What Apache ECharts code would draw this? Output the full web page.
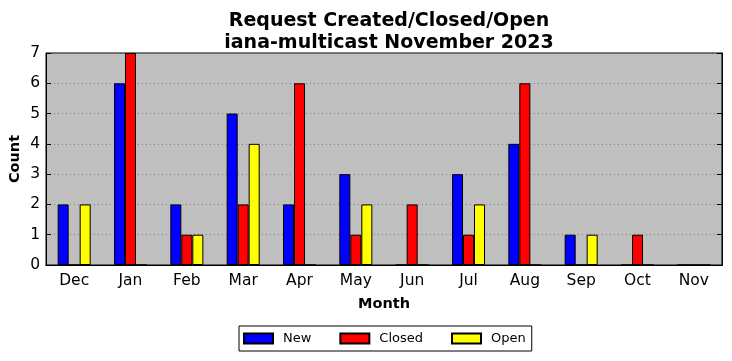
<!DOCTYPE html>
<html><head><meta charset="utf-8">
<script src="https://cdn.jsdelivr.net/npm/echarts@6/dist/echarts.min.js"></script>
<style>html,body{margin:0;padding:0;background:#fff}#c{width:732px;height:361px}</style>
</head><body><div id="c"></div>
<script>
const months = ['Dec','Jan','Feb','Mar','Apr','May','Jun','Jul','Aug','Sep','Oct','Nov'];
const newVals = [2,6,2,5,2,3,0,3,4,1,0,0];
const closedVals = [0,7,1,2,6,1,2,1,6,0,1,0];
const openVals = [2,0,1,4,0,2,0,2,0,1,0,0];
const yTicks = [0,1,2,3,4,5,6,7];

const font = 'DejaVu Sans';
const chart = echarts.init(document.getElementById('c'), null, {renderer:'canvas'});
const barStyle = c => ({color:c, borderColor:'#000', borderWidth:1});
chart.setOption({
  animation:false,
  textStyle:{fontFamily:font},
  title:{text:'Request Created/Closed/Open\niana-multicast November 2023', left:384, top:5, textAlign:'center',
    textStyle:{fontFamily:font, fontSize:19, fontWeight:'bold', color:'#000', lineHeight:22}},
  grid:{left:46, right:10, top:53, bottom:96, outerBoundsMode:'none', containLabel:false, show:true, backgroundColor:'#bfbfbf', borderColor:'#000', borderWidth:1},
  legend:{bottom:10, left:239, itemWidth:29, itemHeight:10, itemGap:28, borderColor:'#000', borderWidth:1, borderRadius:0,
    padding:[6,6,6,4], textStyle:{fontFamily:font, fontSize:13, color:'#000', padding:[0,0,0,5]}, icon:'rect',
    data:['New','Closed','Open']},
  xAxis:[{type:'category', data:months, position:'bottom',
    axisLine:{lineStyle:{color:'#000'}}, axisTick:{inside:true, alignWithLabel:true, length:5, lineStyle:{color:'#000'}},
    axisLabel:{fontFamily:font, fontSize:15.5, color:'#000', margin:8},
    name:'Month', nameLocation:'middle', nameGap:32, nameMoveOverlap:false, nameTextStyle:{fontFamily:font, fontSize:14.5, fontWeight:'bold', color:'#000'}},
    {type:'category', data:months, position:'top',
    axisLine:{lineStyle:{color:'#000'}}, axisTick:{inside:true, alignWithLabel:true, length:5, lineStyle:{color:'#000'}},
    axisLabel:{show:false}}],
  yAxis:[{type:'value', min:0, max:7, interval:1,
    axisLine:{show:true, lineStyle:{color:'#000'}}, axisTick:{show:true, inside:true, length:5, lineStyle:{color:'#000'}},
    axisLabel:{fontFamily:font, fontSize:15.5, color:'#000', margin:6, formatter:v=>yTicks.includes(v)?String(v):''},
    splitLine:{show:true, lineStyle:{color:'#808080', type:[1,3], width:1}},
    name:'Count', nameLocation:'middle', nameGap:23, nameMoveOverlap:false, nameTextStyle:{fontFamily:font, fontSize:14.5, fontWeight:'bold', color:'#000'}},
    {type:'value', min:0, max:7, interval:1, position:'right',
    axisLine:{show:true, lineStyle:{color:'#000'}}, axisTick:{show:true, inside:true, length:5, lineStyle:{color:'#000'}},
    axisLabel:{show:false}, splitLine:{show:false}}],
  series:[
    {name:'New', type:'bar', data:newVals, barWidth:11, barGap:'0%', itemStyle:barStyle('#0000ff')},
    {name:'Closed', type:'bar', data:closedVals, barWidth:11, barGap:'0%', itemStyle:barStyle('#ff0000')},
    {name:'Open', type:'bar', data:openVals, barWidth:11, barGap:'0%', itemStyle:barStyle('#ffff00')}
  ]
});
</script></body></html>
